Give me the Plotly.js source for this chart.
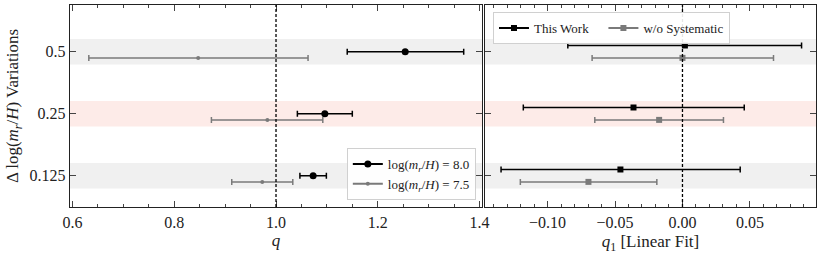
<!DOCTYPE html>
<html>
<head>
<meta charset="utf-8">
<script src="https://cdn.plot.ly/plotly-3.0.1.min.js"></script>
<style>html,body{margin:0;padding:0;background:#fff;}#chart{width:822px;height:254px;}</style>
</head>
<body>
<div id="chart"></div>
<script>
// Categories (top to bottom in picture)
const categories = ["0.5", "0.25", "0.125"];

// Left panel: q
const q80 = [1.254, 1.096, 1.073];
const q80Lo = [1.140, 1.042, 1.047];
const q80Hi = [1.369, 1.150, 1.099];
const q75 = [0.847, 0.983, 0.973];
const q75Lo = [0.632, 0.873, 0.913];
const q75Hi = [1.063, 1.092, 1.033];

// Right panel: q1 [Linear Fit]
const q1Work = [0.0018, -0.0363, -0.0460];
const q1WorkLo = [-0.0850, -0.1180, -0.1345];
const q1WorkHi = [0.0883, 0.0458, 0.0428];
const q1NoSys = [0.0000, -0.0173, -0.0697];
const q1NoSysLo = [-0.0670, -0.0650, -0.1202];
const q1NoSysHi = [0.0675, 0.0304, -0.0190];

const xTicksLeft = [0.6, 0.8, 1.0, 1.2, 1.4];
const xTickTextLeft = ["0.6", "0.8", "1.0", "1.2", "1.4"];
const xTicksRight = [-0.10, -0.05, 0.00, 0.05];
const xTickTextRight = ["\u22120.10", "\u22120.05", "0.00", "0.05"];

const bandColors = ["#f0f0f0", "#fdebe8", "#f0f0f0"];

// positions: category index from bottom
const n = categories.length;
const pos = categories.map((c, i) => n - 1 - i);
const off = (d) => pos.map(p => p + d);
const plus = (v, hi) => v.map((x, i) => hi[i] - x);
const minus = (v, lo) => v.map((x, i) => x - lo[i]);

const BLACK = "#000000";
const GRAY = "#7a7a7a";
const font = "'Liberation Serif', 'DejaVu Serif', serif";

function errTrace(x, lo, hi, y, color, sym, size, xa, ya, name, lw) {
  return {
    type: "scatter", mode: "markers", x: x, y: y, xaxis: xa, yaxis: ya,
    name: name, showlegend: false,
    marker: {color: color, symbol: sym, size: size},
    error_x: {type: "data", symmetric: false, array: plus(x, hi), arrayminus: minus(x, lo),
      color: color, thickness: lw, width: 3}
  };
}
function legTrace(color, sym, size, name, legend, lw) {
  return {
    type: "scatter", mode: "lines+markers", x: [null], y: [null],
    name: name, legend: legend, showlegend: true,
    marker: {color: color, symbol: sym, size: size},
    line: {color: color, width: lw}
  };
}

const labelsLeft = ["log(<i>m<sub>r</sub></i>/<i>H</i>) = 8.0", "log(<i>m<sub>r</sub></i>/<i>H</i>) = 7.5"];
const labelsRight = ["This Work", "w/o Systematic"];
const gap = "\u00a0\u00a0\u00a0";

const traces = [
  errTrace(q75, q75Lo, q75Hi, off(-0.1), GRAY, "circle", 4, "x", "y", labelsLeft[1], 1.5),
  errTrace(q80, q80Lo, q80Hi, off(0), BLACK, "circle", 7, "x", "y", labelsLeft[0], 1.5),
  errTrace(q1NoSys, q1NoSysLo, q1NoSysHi, off(-0.1), GRAY, "square", 6, "x2", "y2", labelsRight[1], 1.5),
  errTrace(q1Work, q1WorkLo, q1WorkHi, off(0.1), BLACK, "square", 6, "x2", "y2", labelsRight[0], 1.5),
  legTrace(BLACK, "circle", 7, labelsLeft[0], "legend", 2),
  legTrace(GRAY, "circle", 4, labelsLeft[1], "legend", 2),
  legTrace(BLACK, "square", 6, labelsRight[0] + gap, "legend2", 2),
  legTrace(GRAY, "square", 6, labelsRight[1], "legend2", 2)
];

const shapes = [];
pos.forEach((p, i) => {
  ["x", "x2"].forEach((xa, k) => {
    shapes.push({type: "rect", xref: xa + " domain", yref: k === 0 ? "y" : "y2",
      x0: 0, x1: 1, y0: p - 0.205, y1: p + 0.205, fillcolor: bandColors[i],
      line: {width: 0}, layer: "below"});
  });
});
shapes.push({type: "line", xref: "x", yref: "y domain", x0: 1.0, x1: 1.0, y0: 0, y1: 1,
  line: {color: BLACK, width: 1.3, dash: "3px,2px"}});
shapes.push({type: "line", xref: "x2", yref: "y2 domain", x0: 0, x1: 0, y0: 0, y1: 1,
  line: {color: BLACK, width: 1.3, dash: "3px,2px"}});

const axCommon = {
  showline: true, linecolor: "#222", linewidth: 1.3, mirror: "ticks",
  ticks: "inside", ticklen: 6, tickwidth: 1, tickcolor: "#444",
  showgrid: false, zeroline: false,
  tickfont: {family: font, size: 16, color: "#222"}
};

const layout = {
  width: 822, height: 254,
  margin: {l: 70, r: 6, t: 5, b: 47},
  paper_bgcolor: "#fff", plot_bgcolor: "#fff",
  font: {family: font, color: "#222"},
  showlegend: true,
  xaxis: Object.assign({}, axCommon, {
    domain: [0, 0.5523], range: [0.595, 1.405],
    tickmode: "array", tickvals: xTicksLeft, ticktext: xTickTextLeft,
    minor: {ticks: "inside", ticklen: 3, tickcolor: "#444", dtick: 0.05, tick0: 0.6, showgrid: false},
    title: {text: "<i>q</i>", font: {family: font, size: 17, color: "#222"}, standoff: 4},
    anchor: "y"
  }),
  xaxis2: Object.assign({}, axCommon, {
    domain: [0.5563, 1], range: [-0.1464, 0.099],
    tickmode: "array", tickvals: xTicksRight, ticktext: xTickTextRight,
    minor: {ticks: "inside", ticklen: 3, tickcolor: "#444", dtick: 0.01, tick0: 0, showgrid: false},
    title: {text: "<i>q</i><sub>1</sub> [Linear Fit]", font: {family: font, size: 17, color: "#222"}, standoff: 6},
    anchor: "y2"
  }),
  yaxis: Object.assign({}, axCommon, {
    range: [-0.505, 2.753], tickmode: "array", tickvals: pos, ticktext: categories,
    title: {text: "\u0394 log(<i>m<sub>r</sub></i>/<i>H</i>) Variations", font: {family: font, size: 17, color: "#222"}, standoff: 6},
    anchor: "x"
  }),
  yaxis2: Object.assign({}, axCommon, {
    range: [-0.505, 2.753], tickmode: "array", tickvals: pos, ticktext: categories,
    showticklabels: false, anchor: "x2"
  }),
  legend: {
    x: 0.544, xanchor: "right", y: 0.035, yanchor: "bottom",
    bgcolor: "rgba(255,255,255,0.9)", bordercolor: "#d0d0d0", borderwidth: 1,
    font: {family: font, size: 13, color: "#222"}, tracegroupgap: 0, itemwidth: 30
  },
  legend2: {
    x: 0.567, xanchor: "left", y: 0.965, yanchor: "top", orientation: "h",
    bgcolor: "rgba(255,255,255,0.9)", bordercolor: "#d0d0d0", borderwidth: 1,
    font: {family: font, size: 13, color: "#222"}, itemwidth: 30
  },
  shapes: shapes
};

Plotly.newPlot("chart", traces, layout, {staticPlot: true, displayModeBar: false});
</script>
</body>
</html>
